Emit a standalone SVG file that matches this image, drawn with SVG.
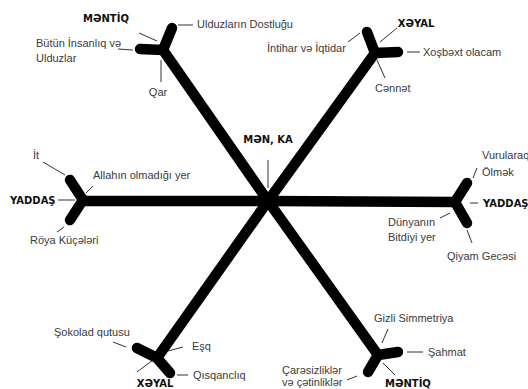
<svg xmlns="http://www.w3.org/2000/svg" width="528" height="389" viewBox="0 0 528 389">
<style>
.bar{stroke:#000;stroke-width:10.5;stroke-linecap:round;stroke-linejoin:round;fill:none}
.ld{stroke:#333;stroke-width:1;fill:none}
.t{font-family:"Liberation Sans",Arial,sans-serif;font-size:11px;fill:#3a3a3a}
.b{font-family:"DejaVu Sans",sans-serif;font-size:10px;font-weight:bold;fill:#111}
</style>
<rect width="528" height="389" fill="#fff"/>
<g id="connectors">
<line class="bar" x1="268" y1="201" x2="83" y2="201"/>
<line class="bar" x1="268" y1="201" x2="455" y2="202"/>
<line class="bar" x1="268" y1="201" x2="163" y2="50"/>
<line class="bar" x1="268" y1="201" x2="375" y2="53"/>
<line class="bar" x1="268" y1="201" x2="157" y2="358"/>
<line class="bar" x1="268" y1="201" x2="378" y2="355"/>
</g>
<g id="center">
<line class="ld" x1="268" y1="160" x2="268" y2="188"/>
<text class="b" x="268" y="143" text-anchor="middle">MƏN, KA</text>
</g>
<g id="mentiq-top">
<polyline class="bar" points="172,28 163,50 140,49"/>
<text class="b" x="106" y="22" text-anchor="middle">MƏNTİQ</text>
<line class="ld" x1="139" y1="33" x2="157" y2="41"/>
<text class="t" x="36" y="47">Bütün İnsanlıq və</text>
<text class="t" x="36" y="62">Ulduzlar</text>
<line class="ld" x1="118" y1="49" x2="133" y2="50"/>
<line class="ld" x1="161" y1="60" x2="161" y2="82"/>
<text class="t" x="158" y="96" text-anchor="middle">Qar</text>
<line class="ld" x1="178" y1="25" x2="193" y2="25"/>
<text class="t" x="197" y="28">Ulduzların Dostluğu</text>
</g>
<g id="xeyal-top">
<polyline class="bar" points="367,32 375,53 398,52"/>
<text class="b" x="416" y="27" text-anchor="middle">XƏYAL</text>
<line class="ld" x1="397" y1="28" x2="380" y2="42"/>
<text class="t" x="267" y="52">İntihar və İqtidar</text>
<line class="ld" x1="348" y1="42" x2="360" y2="33"/>
<line class="ld" x1="407" y1="52" x2="420" y2="52"/>
<text class="t" x="423" y="56">Xoşbəxt olacam</text>
<line class="ld" x1="377" y1="60" x2="385" y2="78"/>
<text class="t" x="375" y="92">Cənnət</text>
</g>
<g id="yaddas-left">
<polyline class="bar" points="70,180 83,200 70,220"/>
<text class="b" x="10" y="204">YADDAŞ</text>
<line class="ld" x1="58" y1="200" x2="75" y2="200"/>
<text class="t" x="33" y="159">İt</text>
<line class="ld" x1="43" y1="162" x2="65" y2="175"/>
<text class="t" x="93" y="179">Allahın olmadığı yer</text>
<line class="ld" x1="86" y1="193" x2="93" y2="186"/>
<text class="t" x="30" y="244">Röya Küçələri</text>
<line class="ld" x1="57" y1="232" x2="64" y2="227"/>
</g>
<g id="yaddas-right">
<polyline class="bar" points="467,183 455,202 467,223"/>
<text class="b" x="483" y="207">YADDAŞ</text>
<line class="ld" x1="470" y1="203" x2="478" y2="203"/>
<text class="t" x="482" y="159">Vurularaq</text>
<text class="t" x="482" y="176">Ölmək</text>
<line class="ld" x1="473" y1="178" x2="477" y2="168"/>
<text class="t" x="388" y="226">Dünyanın</text>
<text class="t" x="388" y="241">Bitdiyi yer</text>
<line class="ld" x1="440" y1="218" x2="450" y2="213"/>
<line class="ld" x1="467" y1="230" x2="472" y2="243"/>
<text class="t" x="447" y="260">Qiyam Gecəsi</text>
</g>
<g id="xeyal-bottom">
<polyline class="bar" points="137,348 157,358 170,373"/>
<text class="b" x="155" y="387" text-anchor="middle">XƏYAL</text>
<line class="ld" x1="137" y1="372" x2="153" y2="360"/>
<text class="t" x="54" y="336">Şokolad qutusu</text>
<line class="ld" x1="113" y1="342" x2="126" y2="347"/>
<text class="t" x="192" y="350">Eşq</text>
<line class="ld" x1="168" y1="351" x2="183" y2="347"/>
<line class="ld" x1="177" y1="375" x2="188" y2="375"/>
<text class="t" x="193" y="379">Qısqanclıq</text>
</g>
<g id="mentiq-bottom">
<polyline class="bar" points="368,372 378,355 398,352"/>
<text class="b" x="385" y="387">MƏNTİQ</text>
<line class="ld" x1="383" y1="363" x2="395" y2="375"/>
<text class="t" x="374" y="322">Gizli Simmetriya</text>
<line class="ld" x1="388" y1="329" x2="382" y2="343"/>
<line class="ld" x1="407" y1="352" x2="423" y2="352"/>
<text class="t" x="428" y="356">Şahmat</text>
<text class="t" x="282" y="374">Çarəsizliklər</text>
<text class="t" x="282" y="386">və çətinliklər</text>
<line class="ld" x1="347" y1="380" x2="357" y2="376"/>
</g>
</svg>
